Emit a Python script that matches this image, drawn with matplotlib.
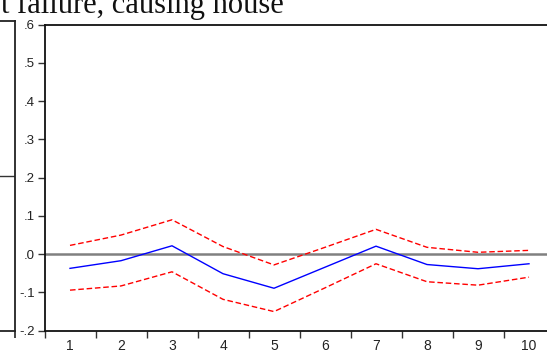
import matplotlib
matplotlib.use("Agg")
import matplotlib.pyplot as plt
from matplotlib.ticker import FixedLocator, FixedFormatter

# ---- data ----
periods = [1, 2, 3, 4, 5, 6, 7, 8, 9, 10]
response = [-0.037, -0.017, 0.022, -0.051, -0.089, -0.034, 0.021, -0.027, -0.038, -0.025]
upper = [0.023, 0.050, 0.090, 0.020, -0.028, 0.018, 0.065, 0.018, 0.005, 0.010]
lower = [-0.094, -0.083, -0.046, -0.118, -0.150, -0.088, -0.025, -0.072, -0.081, -0.060]
ytick_vals = [-0.2, -0.1, 0.0, 0.1, 0.2, 0.3, 0.4, 0.5, 0.6]
ytick_labels = ["-.2", "-.1", ".0", ".1", ".2", ".3", ".4", ".5", ".6"]
xtick_labels = [str(p) for p in periods]
title_text = "t failure, causing house"

W, H = 547, 354
fig = plt.figure(figsize=(W / 100, H / 100), dpi=100)
fig.patch.set_facecolor("white")

def px_rect(l, t, r, b):
    return [l / W, (H - b) / H, (r - l) / W, (b - t) / H]

# ---- neighbouring panel (cut off on the left) ----
axL = fig.add_axes(px_rect(-300, 20.7, 14.5, 330.7))
axL.set_xlim(0, 1)
axL.set_ylim(-1, 1)
axL.spines["left"].set_visible(False)
for s in ["top", "right", "bottom"]:
    axL.spines[s].set_linewidth(1.3)
    axL.spines[s].set_color("#222222")
axL.axhline(0.0, color="#333333", lw=1.0)
axL.set_yticks([])
axL.xaxis.set_major_locator(FixedLocator([1.0]))
axL.set_xticklabels([])
axL.tick_params(axis="x", direction="out", length=5, width=1.2, color="#222222")

# ---- main panel ----
ax = fig.add_axes(px_rect(44.5, 24.7, 554.5, 330.7))
ax.set_xlim(0.5, 10.5)
ax.set_ylim(-0.2, 0.6)

ax.axhline(0.0, color="#808080", lw=1.8, zorder=1)
ax.plot(periods, upper, color="#ff0000", lw=1.0, ls=(0, (4, 2)), zorder=2)
ax.plot(periods, lower, color="#ff0000", lw=1.0, ls=(0, (4, 2)), zorder=2)
ax.plot(periods, response, color="#0000ff", lw=1.0, zorder=3)

for s in ax.spines.values():
    s.set_linewidth(1.3)
    s.set_color("#111111")

ax.yaxis.set_major_locator(FixedLocator(ytick_vals))
ax.yaxis.set_major_formatter(FixedFormatter(ytick_labels))
ax.tick_params(axis="y", direction="out", length=5, width=1.0, color="#333333",
               labelsize=9.5, pad=2, labelcolor="#222222")

half = [p - 0.5 for p in periods] + [periods[-1] + 0.5]
ax.xaxis.set_major_locator(FixedLocator(half))
ax.xaxis.set_major_formatter(FixedFormatter([""] * len(half)))
ax.xaxis.set_minor_locator(FixedLocator(periods))
ax.xaxis.set_minor_formatter(FixedFormatter(xtick_labels))
ax.tick_params(axis="x", which="major", direction="out", length=5, width=1.0, color="#333333")
ax.tick_params(axis="x", which="minor", length=0, labelsize=10, pad=6, labelcolor="#222222")

for t in ax.get_yticklabels() + ax.get_xticklabels(minor=True):
    t.set_family(["Liberation Sans", "DejaVu Sans"])

# ---- cut-off title ----
txt = fig.text(284 / W, (H - 12.7) / H, title_text, ha="right", va="baseline",
               fontsize=17, family=["Liberation Serif", "DejaVu Serif"], color="#111111")
fig.canvas.draw()
bb = txt.get_window_extent()
target = 284.0
txt.set_fontsize(17 * target / bb.width)

fig.savefig("out.png", dpi=100, facecolor="white")
